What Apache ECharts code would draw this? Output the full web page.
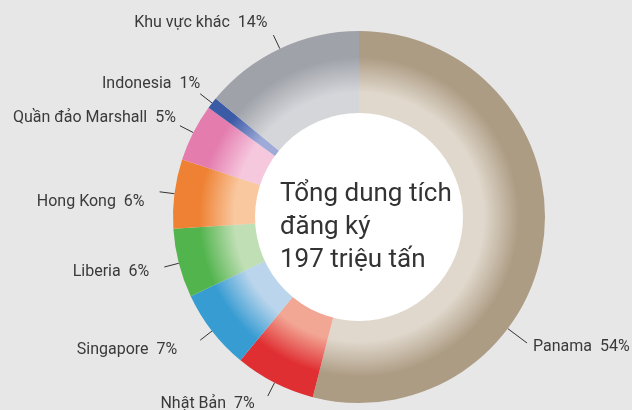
<!DOCTYPE html>
<html>
<head>
<meta charset="utf-8">
<script src="https://cdn.jsdelivr.net/npm/echarts@6/dist/echarts.min.js"></script>
<style>
  html, body { margin: 0; padding: 0; background: #e6e7e6; }
  #chart { width: 632px; height: 410px; }
</style>
</head>
<body>
<div id="chart"></div>
<script>
// du lieu: ty trong tong dung tich dang ky (%)
const regions = ['Panama', 'Nhật Bản', 'Singapore', 'Liberia', 'Hong Kong', 'Quần đảo Marshall', 'Indonesia', 'Khu vực khác']
const shares = [54, 7, 7, 6, 6, 5, 1, 14]
const centerLines = ['Tổng dung tích', 'đăng ký', '197 triệu tấn']

// mau: [ngoai, trong]
const palette = [
  ['#ad9c84', '#e0d8cc'],
  ['#e02f33', '#f2a795'],
  ['#379cd2', '#bad5ec'],
  ['#52b44d', '#c0dfb5'],
  ['#ee8133', '#f9c89f'],
  ['#e47cae', '#f6c8de'],
  ['#3c5ba6', '#9eabd8'],
  ['#9fa2a9', '#d5d6da']
]

// dich nhan so voi vi tri mac dinh
const labelShift = {
  1: { dx: 2, dy: 8 },
  2: { dx: -8, dy: 10 },
  3: { dy: 5 },
  4: { dy: 10 },
  5: { dx: 11, dy: -8 },
  6: { dx: 15, dy: -10 },
  7: { dx: 9, dy: -12 }
}

const cx = 359
const cy = 217
const rIn = 103
const rOut = 186

// nhan Panama dat rieng o goc duoi phai
const panamaLabel = { x: 533, y: 347, lineEnd: [527, 343] }

const chart = echarts.init(document.getElementById('chart'))

const data = regions.map((name, i) => ({
  name: name,
  value: shares[i],
  itemStyle: {
    color: {
      type: 'radial',
      x: cx,
      y: cy,
      r: rOut,
      global: true,
      colorStops: [
        { offset: 0.55, color: palette[i][1] },
        { offset: 0.67, color: palette[i][1] },
        { offset: 0.86, color: palette[i][0] },
        { offset: 1, color: palette[i][0] }
      ]
    }
  }
}))

function panamaLinePoints() {
  const e = panamaLabel.lineEnd
  const dx = e[0] - cx
  const dy = e[1] - cy
  const d = Math.sqrt(dx * dx + dy * dy)
  const start = [cx + dx / d * rOut, cy + dy / d * rOut]
  return [start, e, e]
}

const option = {
  backgroundColor: '#e6e7e6',
  animation: false,
  graphic: [
    {
      type: 'circle',
      shape: { cx: cx, cy: cy, r: rIn + 1 },
      style: { fill: '#ffffff' },
      z: 10
    },
    {
      type: 'text',
      left: 280,
      top: 178,
      z: 11,
      style: {
        text: centerLines.join('\n'),
        font: '26px Roboto',
        lineHeight: 33,
        fill: '#333333'
      }
    }
  ],
  series: [
    {
      type: 'pie',
      center: [cx, cy],
      radius: [rIn, rOut],
      startAngle: 90,
      clockwise: true,
      avoidLabelOverlap: false,
      label: {
        show: true,
        position: 'outside',
        formatter: '{b}  {c}%',
        color: '#3a3a3a',
        fontFamily: 'Roboto',
        fontSize: 16,
        distanceToLabelLine: 15
      },
      labelLine: {
        show: true,
        length: 15,
        length2: 0,
        lineStyle: { color: '#333333', width: 1 }
      },
      labelLayout: function (params) {
        if (params.dataIndex === 0) {
          return {
            x: panamaLabel.x,
            y: panamaLabel.y,
            labelLinePoints: panamaLinePoints()
          }
        }
        return labelShift[params.dataIndex] || {}
      },
      emphasis: { disabled: true },
      data: data
    }
  ]
}

chart.setOption(option)
</script>
</body>
</html>
